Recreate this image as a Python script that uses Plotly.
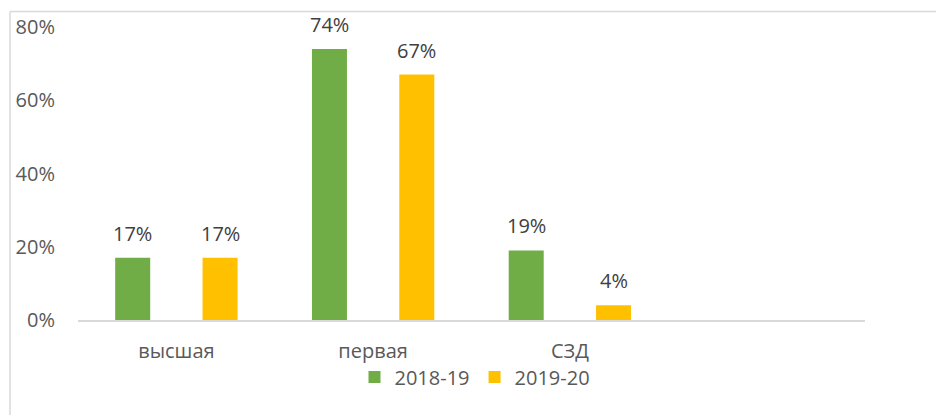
import plotly.graph_objects as go

categories = ["высшая", "первая", "СЗД"]
series_names = ["2018-19", "2019-20"]
values_2018_19 = [0.17, 0.74, 0.19]
values_2019_20 = [0.17, 0.67, 0.04]
y_tick_vals = [0, 0.2, 0.4, 0.6, 0.8]
y_tick_text = ["0%", "20%", "40%", "60%", "80%"]

GREEN = "#70AD47"
YELLOW = "#FFC000"
FONT = "Open Sans"
W, H = 936, 415
ML, MR, MT, MB = 78, 71, 27, 95
PW = W - ML - MR
PH = H - MT - MB
N_SLOTS = 4  # three categories plus an empty slot on the right
CAT_PX = PW / N_SLOTS

bar_w = 0.178
series = [
    (series_names[0], values_2018_19, GREEN, -0.311),
    (series_names[1], values_2019_20, YELLOW, 0.133),
]
fig = go.Figure()
for name, vals, col, off in series:
    fig.add_trace(go.Bar(
        x=categories, y=vals, name=name,
        marker=dict(color=col, line=dict(width=0)),
        width=bar_w, offset=off,
    ))
    # data labels above each bar
    for cat, v in zip(categories, vals):
        fig.add_annotation(
            x=cat, y=v, xref="x", yref="y",
            text=f"{v:.0%}", showarrow=False,
            xanchor="center", yanchor="bottom",
            xshift=(off + bar_w / 2) * CAT_PX, yshift=9,
            font=dict(family=FONT, size=20, color="#404040"),
        )

# chart frame (left and top border like the source)
bx = (10 - ML) / PW
by = 1 + (MT - 11.5) / PH
fig.add_shape(type="line", xref="paper", yref="paper",
              x0=bx, x1=bx, y0=-(MB / PH) - 0.05, y1=by,
              line=dict(color="#D9D9D9", width=1.5))
fig.add_shape(type="line", xref="paper", yref="paper",
              x0=bx, x1=(W - ML) / PW + 0.05, y0=by, y1=by,
              line=dict(color="#D9D9D9", width=1.5))

fig.update_layout(
    width=W, height=H,
    margin=dict(l=ML, r=MR, t=MT, b=MB, pad=0, autoexpand=False),
    paper_bgcolor="white", plot_bgcolor="white",
    barmode="group",
    font=dict(family=FONT, size=20, color="#595959"),
    xaxis=dict(
        type="category", range=[-0.5, N_SLOTS - 0.5], automargin=False,
        showline=True, linecolor="#D9D9D9", linewidth=1.5,
        ticks="", showgrid=False, zeroline=False,
        ticklabelstandoff=12,
        tickfont=dict(family=FONT, size=20, color="#595959"),
    ),
    yaxis=dict(
        range=[0, 0.8], tickvals=y_tick_vals, ticktext=y_tick_text,
        automargin=False,
        showgrid=False, zeroline=False, showline=False, ticks="",
        ticklabelstandoff=22,
        tickfont=dict(family=FONT, size=20, color="#595959"),
    ),
    legend=dict(
        orientation="h", x=(475 - ML) / PW, xanchor="center",
        y=(320 - 377) / PH, yanchor="middle",
        bgcolor="rgba(0,0,0,0)",
        font=dict(family=FONT, size=20, color="#595959"),
        itemwidth=30, traceorder="normal",
    ),
    showlegend=True,
)

fig.write_html("out.html", config={"displayModeBar": False},
               post_script="document.body.style.margin='0';")
